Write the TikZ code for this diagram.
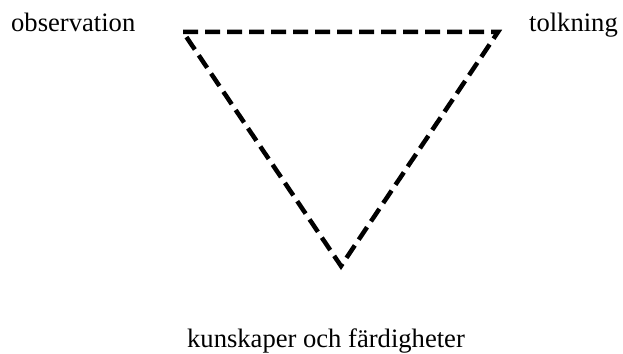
\documentclass[tikz,border=0pt]{standalone}
\usepackage{fontspec}
\setmainfont{Liberation Serif}
\begin{document}
\begin{tikzpicture}[x=1pt,y=-1pt,
  lbl/.style={inner sep=0pt, font=\fontsize{26.6}{31}\selectfont},
  tri/.style={line width=4.5pt, dash pattern=on 15pt off 7pt, line join=miter}]
\useasboundingbox (0,0) rectangle (623,353);
\coordinate (tl) at (183,32);
\coordinate (tr) at (498,32);
\coordinate (bt) at (341,266);
\draw[tri] (tl) -- (tr) -- (bt) -- cycle;
\node[lbl, anchor=base west] (obs) at (11,32) {observation};
\node[lbl, anchor=base east] (tol) at (618,32) {tolkning};
\node[lbl, anchor=base] (kun) at (326,347) {kunskaper och färdigheter};
\end{tikzpicture}
\end{document}
